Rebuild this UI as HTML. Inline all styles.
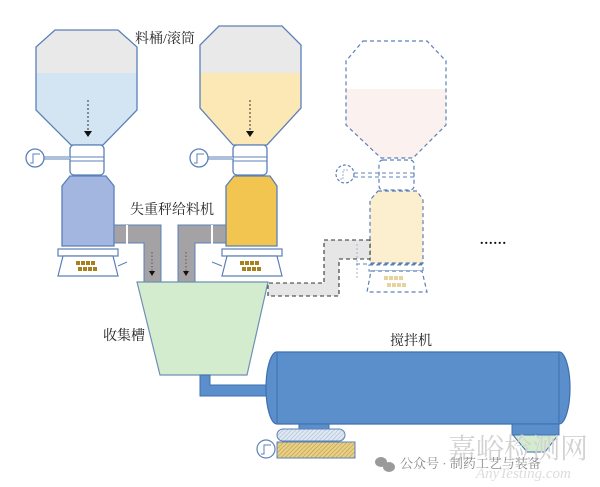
<!DOCTYPE html>
<html><head><meta charset="utf-8"><style>
html,body{margin:0;padding:0;background:#fff;}
svg{display:block}
text{font-family:"Liberation Serif","Noto Serif CJK SC",serif;}
</style></head><body>
<svg width="600" height="487" viewBox="0 0 600 487" xmlns="http://www.w3.org/2000/svg">
<defs>
<pattern id="hb" width="3" height="3" patternUnits="userSpaceOnUse" patternTransform="rotate(45)"><rect width="3" height="3" fill="#dfe8f2"/><line x1="0" y1="0" x2="0" y2="3" stroke="#9fb6d0" stroke-width="1"/></pattern>
<pattern id="ht" width="3" height="3" patternUnits="userSpaceOnUse" patternTransform="rotate(45)"><rect width="3" height="3" fill="#e6cf86"/><line x1="0" y1="0" x2="0" y2="3" stroke="#b8963a" stroke-width="1"/></pattern>
<clipPath id="c1"><polygon points="55,30 118,30 137,47 137,110 103,145 71,145 36,110 36,47"/></clipPath>
<clipPath id="c2"><polygon points="219,26 282,26 301,45 301,108 267,145 233,145 200,108 200,45"/></clipPath>
<clipPath id="c3"><polygon points="363,41 427,41 446,61 446,125 413,158 381,158 346,125 346,61"/></clipPath>
</defs>

<!-- left hopper -->
<g clip-path="url(#c1)"><rect x="30" y="25" width="120" height="48" fill="#e9e9ea"/><rect x="30" y="73" width="120" height="80" fill="#d3e4f2"/></g>
<polygon points="55,30 118,30 137,47 137,110 103,145 71,145 36,110 36,47" fill="none" stroke="#5b80b8" stroke-width="1.3"/>
<line x1="88" y1="100" x2="88" y2="132" stroke="#333" stroke-dasharray="2,2"/><polygon points="84,131 92,131 88,137" fill="#111"/>
<rect x="70" y="145" width="34" height="30" rx="4" fill="#fff" stroke="#5b80b8" stroke-width="1.3"/>
<line x1="70" y1="157" x2="104" y2="157" stroke="#5b80b8"/><line x1="70" y1="161" x2="104" y2="161" stroke="#5b80b8"/>
<line x1="44" y1="158" x2="70" y2="158" stroke="#5b80b8" stroke-width="3"/><line x1="44" y1="158" x2="70" y2="158" stroke="#fff" stroke-width="1"/>
<circle cx="35" cy="158" r="9" fill="#fff" stroke="#5b80b8" stroke-width="1.3"/><path d="M30,163 L33,163 L33,154 L40,154" fill="none" stroke="#5b80b8"/>
<polygon points="70,176 106,176 114,186 114,246 62,246 62,186" fill="#a3b6e0" stroke="#5b80b8" stroke-width="1.3"/>
<!-- gray pipe left -->
<path d="M114,225 L161,225 L161,282 L144,282 L144,243 L114,243 Z" fill="#a5a2a6" stroke="#5b80b8" stroke-width="1"/>
<line x1="127" y1="225" x2="127" y2="262" stroke="#fff" stroke-width="2"/><line x1="127" y1="262" x2="118" y2="266" stroke="#5b80b8"/>
<line x1="152" y1="252" x2="152" y2="272" stroke="#555" stroke-dasharray="1.5,2"/><polygon points="149,271 155,271 152,276" fill="#111"/>
<rect x="58" y="249" width="60" height="7" fill="#fff" stroke="#5b80b8" stroke-width="1.2"/>
<polygon points="63,256 113,256 118,276 58,276" fill="#fff" stroke="#5b80b8" stroke-width="1.2"/>
<g fill="#a8801e"><rect x="76" y="261" width="4" height="4"/><rect x="81" y="261" width="4" height="4"/><rect x="86" y="261" width="4" height="4"/><rect x="91" y="261" width="4" height="4"/><rect x="78" y="267" width="4" height="4"/><rect x="83" y="267" width="4" height="4"/><rect x="88" y="267" width="4" height="4"/><rect x="93" y="267" width="4" height="4"/></g>

<!-- right hopper -->
<g clip-path="url(#c2)"><rect x="195" y="20" width="120" height="53" fill="#e9e9ea"/><rect x="195" y="73" width="120" height="80" fill="#fbe8b5"/></g>
<polygon points="219,26 282,26 301,45 301,108 267,145 233,145 200,108 200,45" fill="none" stroke="#5b80b8" stroke-width="1.3"/>
<line x1="250" y1="100" x2="250" y2="132" stroke="#333" stroke-dasharray="2,2"/><polygon points="246,131 254,131 250,137" fill="#111"/>
<rect x="233" y="145" width="34" height="30" rx="4" fill="#fff" stroke="#5b80b8" stroke-width="1.3"/>
<line x1="233" y1="157" x2="267" y2="157" stroke="#5b80b8"/><line x1="233" y1="161" x2="267" y2="161" stroke="#5b80b8"/>
<line x1="208" y1="158" x2="233" y2="158" stroke="#5b80b8" stroke-width="3"/><line x1="208" y1="158" x2="233" y2="158" stroke="#fff" stroke-width="1"/>
<circle cx="199" cy="158" r="9" fill="#fff" stroke="#5b80b8" stroke-width="1.3"/><path d="M194,163 L197,163 L197,154 L204,154" fill="none" stroke="#5b80b8"/>
<polygon points="234,176 270,176 277,186 277,246 226,246 226,186" fill="#f2c550" stroke="#5b80b8" stroke-width="1.3"/>
<path d="M226,225 L178,225 L178,282 L195,282 L195,243 L226,243 Z" fill="#a5a2a6" stroke="#5b80b8" stroke-width="1"/>
<line x1="212" y1="225" x2="212" y2="262" stroke="#fff" stroke-width="2"/><line x1="212" y1="262" x2="222" y2="266" stroke="#5b80b8"/>
<line x1="186" y1="252" x2="186" y2="272" stroke="#555" stroke-dasharray="1.5,2"/><polygon points="183,271 189,271 186,276" fill="#111"/>
<rect x="222" y="249" width="60" height="7" fill="#fff" stroke="#5b80b8" stroke-width="1.2"/>
<polygon points="227,256 277,256 282,276 222,276" fill="#fff" stroke="#5b80b8" stroke-width="1.2"/>
<g fill="#a8801e"><rect x="240" y="261" width="4" height="4"/><rect x="245" y="261" width="4" height="4"/><rect x="250" y="261" width="4" height="4"/><rect x="255" y="261" width="4" height="4"/><rect x="242" y="267" width="4" height="4"/><rect x="247" y="267" width="4" height="4"/><rect x="252" y="267" width="4" height="4"/><rect x="257" y="267" width="4" height="4"/></g>

<!-- third dashed -->
<g clip-path="url(#c3)"><rect x="340" y="89" width="110" height="75" fill="#fbf1ee"/></g>
<polygon points="363,41 427,41 446,61 446,125 413,158 381,158 346,125 346,61" fill="none" stroke="#5b80b8" stroke-width="1.2" stroke-dasharray="4,3"/>
<rect x="379" y="160" width="35" height="30" rx="4" fill="#fff" stroke="#5b80b8" stroke-width="1.2" stroke-dasharray="4,3"/>
<line x1="354" y1="173" x2="414" y2="173" stroke="#5b80b8" stroke-dasharray="4,3"/><line x1="354" y1="177" x2="414" y2="177" stroke="#5b80b8" stroke-dasharray="4,3"/>
<circle cx="345" cy="174" r="9" fill="#fff" stroke="#5b80b8" stroke-width="1.2" stroke-dasharray="3,2"/>
<path d="M340,179 L343,179 L343,170 L349,170" fill="none" stroke="#9fb6d0" stroke-dasharray="2,1"/>
<path d="M378,191 L417,191 L423,200 L423,263 L370,263 L370,200 Z" fill="#fbefd0" stroke="#5b80b8" stroke-width="1.2" stroke-dasharray="4,3"/>
<path d="M370,240 L324,240 L324,283 L268,283 L268,296 L339,296 L339,259 L370,259 Z" fill="#e6e6e6" stroke="#333" stroke-width="1.1" stroke-dasharray="4,3"/>
<line x1="357" y1="244" x2="357" y2="278" stroke="#9fb6d0" stroke-dasharray="2,2"/>
<line x1="356" y1="264" x2="424" y2="264" stroke="#5b80b8" stroke-dasharray="4,3"/>
<rect x="369" y="265" width="54" height="6" fill="none" stroke="#5b80b8" stroke-dasharray="4,3"/>
<polygon points="371,271 422,271 427,292 367,292" fill="#fff" stroke="#5b80b8" stroke-width="1.2" stroke-dasharray="4,3"/>
<g fill="#e6d39e"><rect x="384" y="276" width="4" height="4"/><rect x="389" y="276" width="4" height="4"/><rect x="394" y="276" width="4" height="4"/><rect x="399" y="276" width="4" height="4"/><rect x="387" y="283" width="4" height="4"/><rect x="392" y="283" width="4" height="4"/><rect x="397" y="283" width="4" height="4"/><rect x="402" y="283" width="4" height="4"/></g>
<text x="480" y="244" font-size="14" font-weight="bold" fill="#111" letter-spacing="1">......</text>

<!-- collector -->
<polygon points="137,282 268,282 247,375 160,375" fill="#d4ecce" stroke="#6f8fb8" stroke-width="1.2"/>
<path d="M200,375 L210,375 L210,385 L268,385 L268,396 L200,396 Z" fill="#5b8fcc" stroke="#3d6fb0"/>

<!-- mixer -->
<rect x="266" y="352" width="304" height="72" rx="11" ry="36" fill="#5b8fcc" stroke="#3d6fb0" stroke-width="1.2"/>
<line x1="277" y1="353" x2="277" y2="423" stroke="#3d6fb0"/><line x1="559" y1="353" x2="559" y2="423" stroke="#3d6fb0"/>
<rect x="299" y="424" width="30" height="10" fill="#5b8fcc" stroke="#3d6fb0"/>
<rect x="277" y="429" width="68" height="12" rx="6" fill="url(#hb)" stroke="#5b80b8"/>
<rect x="277" y="442" width="78" height="16" fill="url(#ht)" stroke="#5b80b8"/>
<circle cx="266" cy="449" r="9" fill="#fff" stroke="#5b80b8" stroke-width="1.2"/><path d="M261,454 L264,454 L264,445 L271,445" fill="none" stroke="#5b80b8"/>
<polygon points="512,424 559,424 559,435 512,435" fill="#5b8fcc" stroke="#3d6fb0"/>
<polygon points="513,435 558,435 545,452 527,452" fill="#d4ecce" stroke="#3d6fb0"/>

<!-- labels -->
<text x="135" y="43" font-size="14" fill="#222">料桶/滚筒</text>
<text x="130" y="214" font-size="14" fill="#222">失重秤给料机</text>
<text x="103" y="340" font-size="14" fill="#222">收集槽</text>
<text x="390" y="345" font-size="14" fill="#222">搅拌机</text>

<!-- watermark -->
<text x="448" y="458" font-size="28" fill="#d2d2d2" font-family="Liberation Sans,Noto Sans CJK SC,sans-serif">嘉峪检测网</text>
<text x="476" y="478" font-size="15" fill="#dcdcdc" font-style="italic" font-family="Liberation Sans,sans-serif">AnyTesting.com</text>
<ellipse cx="381" cy="462" rx="6" ry="5" fill="#9a9a9a"/><ellipse cx="389" cy="467" rx="6" ry="5" fill="#9a9a9a"/>
<text x="400" y="468" font-size="13" fill="#8a8a8a" font-family="Liberation Sans,Noto Sans CJK SC,sans-serif">公众号 · 制药工艺与装备</text>
</svg>
</body></html>
